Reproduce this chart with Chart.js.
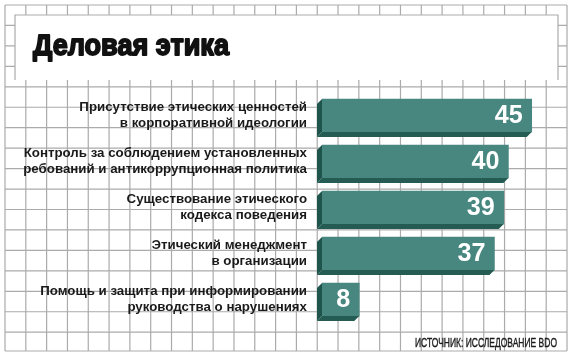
<!DOCTYPE html>
<html lang="ru">
<head>
<meta charset="utf-8">
<title>Деловая этика</title>
<script src="https://cdn.jsdelivr.net/npm/chart.js@4.4.1/dist/chart.umd.min.js"></script>
<style>
  html, body { margin: 0; padding: 0; background: #fff; }
  #wrap { width: 575px; height: 359px; }
</style>
</head>
<body>
<div id="wrap"><canvas id="chart" width="575" height="359"></canvas></div>
<script>
// ---- data ----
const categories = [
    ['Присутствие этических ценностей', 'в корпоративной идеологии'],
    ['Контроль за соблюдением установленных', 'ребований и антикоррупционная политика'],
    ['Существование этического', 'кодекса поведения'],
    ['Этический менеджмент', 'в организации'],
    ['Помощь и защита при информировании', 'руководства о нарушениях']
];
const values = [45, 40, 39, 37, 8];
const titleText = 'Деловая этика';
const sourceText = 'ИСТОЧНИК: ИССЛЕДОВАНИЕ BDO';

// ---- style ----
const colors = {
    grid: '#ababab',
    front: '#47877f',
    side: '#1f544c',
    bottom: '#245b53',
    text: '#1a1a1a',
    value: '#ffffff'
};
const DEPTH = 5;

// text drawn squeezed to a target width (optional stroke to make it heavier)
function fitText(ctx, text, x, y, width, align, stroke) {
    const w = ctx.measureText(text).width;
    const k = width / w;
    ctx.save();
    ctx.translate(x, y);
    ctx.scale(k, 1);
    ctx.textAlign = align;
    if (stroke) {
        ctx.strokeStyle = ctx.fillStyle;
        ctx.lineWidth = stroke;
        ctx.lineJoin = 'round';
        ctx.strokeText(text, 0, 0);
    }
    ctx.fillText(text, 0, 0);
    ctx.restore();
}

// graph-paper background, title box, title and source
const paperPlugin = {
    id: 'paper',
    beforeDraw(chart) {
        const ctx = chart.ctx;
        ctx.save();
        ctx.fillStyle = '#fff';
        ctx.fillRect(0, 0, chart.width, chart.height);

        const left = 5, right = 567, top = 5, bottom = 351;
        const stepX = (right - left) / 27;
        const stepY = 20.45;
        ctx.strokeStyle = colors.grid;
        ctx.lineWidth = 1.2;
        ctx.beginPath();
        for (let i = 0; i <= 27; i++) {
            const x = left + i * stepX;
            ctx.moveTo(x, top);
            ctx.lineTo(x, bottom);
        }
        for (let y = top; y < bottom - 2; y += stepY) {
            ctx.moveTo(left, y);
            ctx.lineTo(right, y);
        }
        ctx.moveTo(left, bottom);
        ctx.lineTo(right, bottom);
        ctx.stroke();

        // title box
        ctx.fillStyle = '#fff';
        ctx.fillRect(15, 15, 543, 65);
        ctx.beginPath();
        ctx.moveTo(15, 80);
        ctx.lineTo(15, 15);
        ctx.lineTo(558, 15);
        ctx.lineTo(558, 80);
        ctx.stroke();

        ctx.fillStyle = '#111';
        ctx.textBaseline = 'alphabetic';
        ctx.font = 'bold 30px "Liberation Sans", Arial, sans-serif';
        fitText(ctx, titleText, 33, 55, 196, 'left', 1.8);

        ctx.font = '13px "Liberation Sans", Arial, sans-serif';
        ctx.fillStyle = '#1a1a1a';
        fitText(ctx, sourceText, 557, 347, 142, 'right', 0.4);
        ctx.restore();
    }
};

// extruded faces of each bar (left side and bottom) plus the value
const bar3dPlugin = {
    id: 'bar3d',
    afterDatasetsDraw(chart) {
        const ctx = chart.ctx;
        const meta = chart.getDatasetMeta(0);
        ctx.save();
        meta.data.forEach((bar, i) => {
            const x0 = bar.base, x1 = bar.x;
            const yt = bar.y - bar.height / 2, yb = bar.y + bar.height / 2;
            ctx.fillStyle = colors.side;
            ctx.beginPath();
            ctx.moveTo(x0, yt);
            ctx.lineTo(x0, yb);
            ctx.lineTo(x0 - DEPTH, yb + DEPTH);
            ctx.lineTo(x0 - DEPTH, yt + DEPTH);
            ctx.closePath();
            ctx.fill();
            ctx.fillStyle = colors.bottom;
            ctx.beginPath();
            ctx.moveTo(x0, yb);
            ctx.lineTo(x1, yb);
            ctx.lineTo(x1 - DEPTH, yb + DEPTH);
            ctx.lineTo(x0 - DEPTH, yb + DEPTH);
            ctx.closePath();
            ctx.fill();

            // value inside the bar
            ctx.fillStyle = colors.value;
            ctx.font = 'bold 25px "Liberation Sans", Arial, sans-serif';
            ctx.textBaseline = 'middle';
            fitText(ctx, String(values[i]), x1 - 9, bar.y + 1,
                String(values[i]).length * 14, 'right');
        });
        ctx.restore();
    }
};

// two-line category labels to the left of the bars
const labelPlugin = {
    id: 'catLabels',
    afterDraw(chart) {
        const ctx = chart.ctx;
        const yScale = chart.scales.y;
        ctx.save();
        ctx.fillStyle = colors.text;
        ctx.font = 'bold 13.3px "Liberation Sans", Arial, sans-serif';
        ctx.textAlign = 'right';
        ctx.textBaseline = 'middle';
        categories.forEach((lines, i) => {
            const yc = yScale.getPixelForValue(i);
            lines.forEach((line, j) => {
                ctx.fillText(line, 307, yc - 8 + j * 15.5);
            });
        });
        ctx.restore();
    }
};

new Chart(document.getElementById('chart'), {
    type: 'bar',
    data: {
        labels: categories,
        datasets: [{
            data: values,
            backgroundColor: colors.front,
            borderWidth: 0,
            barThickness: 33
        }]
    },
    options: {
        indexAxis: 'y',
        responsive: false,
        devicePixelRatio: 1,
        animation: false,
        layout: {
            padding: { left: 322, right: 20, top: 92.5, bottom: 36.5 }
        },
        scales: {
            x: { display: false, min: 0, max: 50 },
            y: { display: false }
        },
        plugins: {
            legend: { display: false },
            tooltip: { enabled: false }
        }
    },
    plugins: [paperPlugin, bar3dPlugin, labelPlugin]
});
</script>
</body>
</html>
